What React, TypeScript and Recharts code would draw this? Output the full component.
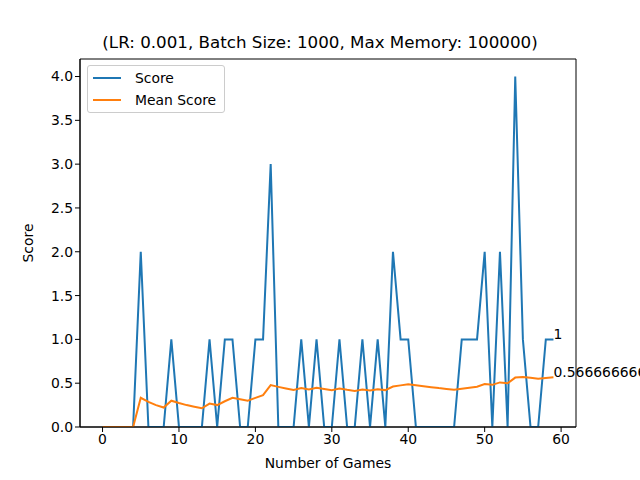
import { Label, Line, LineChart, ReferenceArea, ReferenceDot, XAxis, YAxis } from "recharts";

const games = Array.from({ length: 60 }, (_, i) => i);
const scores = [
  0, 0, 0, 0, 0, 2, 0, 0, 0, 1, 0, 0, 0, 0, 1, 0, 1, 1, 0, 0,
  1, 1, 3, 0, 0, 0, 1, 0, 1, 0, 0, 1, 0, 0, 1, 0, 1, 0, 2, 1,
  1, 0, 0, 0, 0, 0, 0, 1, 1, 1, 2, 0, 2, 0, 4, 1, 0, 0, 1, 1
];
const meanScores = [
  0, 0, 0, 0, 0, 0.333, 0.286, 0.25, 0.222, 0.3, 0.273, 0.25, 0.231, 0.214, 0.267, 0.25, 0.294, 0.333, 0.316, 0.3,
  0.333, 0.364, 0.478, 0.458, 0.44, 0.423, 0.444, 0.429, 0.448, 0.433, 0.419, 0.438, 0.424, 0.412, 0.429, 0.417, 0.432, 0.421, 0.462, 0.475,
  0.488, 0.476, 0.465, 0.455, 0.444, 0.435, 0.426, 0.4375, 0.449, 0.46, 0.49, 0.481, 0.509, 0.5, 0.564, 0.571, 0.561, 0.552, 0.559, 0.5666666666666667
];
const xTicks = [0, 10, 20, 30, 40, 50, 60];
const yTicks = [0, 0.5, 1, 1.5, 2, 2.5, 3, 3.5, 4];

const data = games.map((g, i) => ({ game: g, score: scores[i], mean: meanScores[i] }));
const font = "DejaVu Sans";
const tick = { fill: "#000", fontSize: 13.9, fontFamily: font };

function LegendBox() {
  const row = (color: string, text: string) => (
    <div style={{ display: "flex", alignItems: "center", height: 22 }}>
      <div style={{ width: 28, height: 2, background: color, marginRight: 14 }} />
      <span>{text}</span>
    </div>
  );
  return (
    <div style={{ position: "absolute", left: 87, top: 65, border: "1px solid #ccc", borderRadius: 3, background: "#fff", padding: "1px 8px 1px 5px", fontFamily: font, fontSize: 13.9, color: "#000" }}>
      {row("#1f77b4", "Score")}
      {row("#ff7f0e", "Mean Score")}
    </div>
  );
}

export default function App() {
  return (
    <div style={{ position: "absolute", left: 0, top: 0, width: 640, height: 480, background: "#fff", overflow: "hidden" }}>
      <div style={{ position: "absolute", top: 32, width: 640, textAlign: "center", fontFamily: font, fontSize: 16.7 }}>
        (LR: 0.001, Batch Size: 1000, Max Memory: 100000)
      </div>
      <LineChart width={640} height={480} data={data} margin={{ top: 59, right: 64, bottom: 0, left: 0 }} style={{ overflow: "visible" }}>
        <XAxis dataKey="game" type="number" domain={[-2.95, 61.95]} ticks={xTicks} allowDataOverflow height={53}
          stroke="#000" tick={tick} tickSize={5} interval={0}>
          <Label value="Number of Games" position="insideBottom" offset={12} style={{ fill: "#000", fontSize: 13.9, fontFamily: font }} />
        </XAxis>
        <YAxis type="number" domain={[0, 4.2]} ticks={yTicks} allowDataOverflow width={80} stroke="#000" tick={tick}
          tickSize={5} interval={0} tickFormatter={(v: number) => v.toFixed(1)}>
          <Label value="Score" angle={-90} position="insideLeft" offset={28} style={{ fill: "#000", fontSize: 13.9, fontFamily: font, textAnchor: "middle" }} />
        </YAxis>
        <ReferenceArea x1={-2.95} x2={61.95} y1={0} y2={4.2} fill="none" stroke="#000" strokeWidth={1} ifOverflow="visible" />
        <Line dataKey="score" stroke="#1f77b4" strokeWidth={2} dot={false} isAnimationActive={false} />
        <Line dataKey="mean" stroke="#ff7f0e" strokeWidth={2} dot={false} isAnimationActive={false} />
        <ReferenceDot x={59} y={scores[59]} r={0} ifOverflow="visible"
          label={(p: any) => <text x={p.viewBox.x} y={p.viewBox.y} fontFamily={font} fontSize={13.9} fill="#000">{String(scores[59])}</text>} />
        <ReferenceDot x={59} y={meanScores[59]} r={0} ifOverflow="visible"
          label={(p: any) => <text x={p.viewBox.x} y={p.viewBox.y} fontFamily={font} fontSize={13.9} fill="#000">{String(meanScores[59])}</text>} />
      </LineChart>
      <LegendBox />
    </div>
  );
}
